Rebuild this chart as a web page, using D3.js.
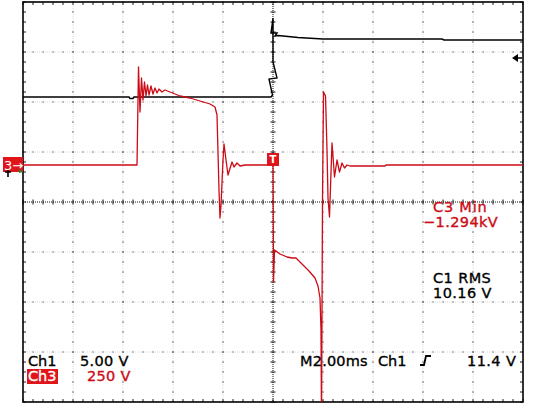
<!DOCTYPE html>
<html>
<head>
<meta charset="utf-8">
<script src="https://cdn.jsdelivr.net/npm/d3@7"></script>
<style>
  body { margin: 0; background: #fff; }
  svg { display: block; }
  text { font-family: "DejaVu Sans", sans-serif; }
</style>
</head>
<body>
<svg width="533" height="415"></svg>
<script>
// channel 1 (black), time in ms, volts
const ch1Time  = [-10, -5.76, -5.72, -5.6, -5.56, -0.08, -0.02, -0.16, 0.16, 0, 0, -0.08, 0.16, 0.08, 0.2, 1.0, 2.0, 3.48, 6.76, 6.84, 10]
const ch1Volts = [7.5, 7.5, 7.35, 7.35, 7.5, 7.5, 7.7, 9.3, 9.4, 11, 15.4, 13.9, 13.9, 13.6, 13.65, 13.45, 13.3, 13.3, 13.3, 13.2, 13.2]

// channel 3 (red)
const ch3Time  = [-10, -5.44, -5.38, -5.32, -5.26, -5.2, -5.14, -5.08, -5.02, -4.96, -4.88, -4.8, -4.72, -4.64, -4.56, -4.44, -4.32, -4.12,
  -3.72, -3.32, -2.92, -2.52, -2.32, -2.24, -2.16, -2.12, -2.08, -2.0, -1.96, -1.88, -1.8, -1.64, -1.56, -1.44, -1.32, -1.12,
  0, 0.02, 0.06, 0.28, 0.56, 0.76, 0.92, 1.16, 1.44, 1.68, 1.8, 1.88, 1.92, 1.94, 1.98, 2.02, 2.1, 2.16, 2.2, 2.26, 2.36,
  2.46, 2.56, 2.66, 2.76, 2.86, 2.96, 3.08, 4.48, 4.52, 10]
const ch3Volts = [0, 0, 490, 265, 435, 325, 415, 345, 400, 350, 395, 355, 385, 360, 380, 365, 375, 365,
  345, 335, 320, 305, 290, 250, -125, -265, -200, 25, 105, 25, -50, 15, -10, 10, -5, 0,
  0, -585, -425, -445, -460, -465, -465, -495, -530, -565, -605, -665, -825, -1294, -175, 365, 345, 75, -165, -260, 110,
  -60, 25, -35, 10, -15, 0, -5, -5, 0, 0]

const voltsPerDiv = [5, 250]
const groundOffsetDiv = [0.6, 0.74]
const triggerLevel = 11.4
const measureLabels = ["C3 Min", "\u22121.294kV", "C1 RMS", "10.16 V"]
const scaleLabels = ["Ch1", "5.00 V", "Ch3", "250 V", "M2.00ms", "Ch1", "11.4 V"]

const red = "#cc0b16", boxRed = "#e0151b"
const plotL = 23, plotR = 523, plotT = 2, plotB = 402

const svg = d3.select("svg")

const x = d3.scaleLinear().domain([-10, 10]).range([plotL, plotR])
const div = d3.scaleLinear().domain([-4, 4]).range([plotB, plotT])
const y1 = d3.scaleLinear()
  .domain([(-4 - groundOffsetDiv[0]) * voltsPerDiv[0], (4 - groundOffsetDiv[0]) * voltsPerDiv[0]])
  .range([plotB, plotT])
const y3 = d3.scaleLinear()
  .domain([(-4 - groundOffsetDiv[1]) * voltsPerDiv[1], (4 - groundOffsetDiv[1]) * voltsPerDiv[1]])
  .range([plotB, plotT])

// graticule
const g = svg.append("g")
const vMajors = d3.range(-8, 9, 2).filter(d => d !== 0)
const hMajors = d3.range(-3, 4, 1).filter(d => d !== 0)

g.selectAll(".vfaint").data(vMajors).enter().append("line")
  .attr("x1", d => x(d)).attr("x2", d => x(d)).attr("y1", plotT).attr("y2", plotB)
  .attr("stroke", "#dcdcdc").attr("stroke-dasharray", "1 1")
g.selectAll(".hfaint").data(hMajors).enter().append("line")
  .attr("y1", d => div(d)).attr("y2", d => div(d)).attr("x1", plotL).attr("x2", plotR)
  .attr("stroke", "#dcdcdc").attr("stroke-dasharray", "1 1")

g.selectAll(".vdot").data(vMajors).enter().append("line")
  .attr("x1", d => x(d)).attr("x2", d => x(d)).attr("y1", plotT - 0.5).attr("y2", plotB)
  .attr("stroke", "#222").attr("stroke-width", 1.2).attr("stroke-dasharray", "1 9")
g.selectAll(".hdot").data(hMajors).enter().append("line")
  .attr("y1", d => div(d)).attr("y2", d => div(d)).attr("x1", plotL - 0.5).attr("x2", plotR)
  .attr("stroke", "#222").attr("stroke-width", 1.2).attr("stroke-dasharray", "1 9")

// center crosshair
g.append("line").attr("x1", x(0)).attr("x2", x(0)).attr("y1", plotT).attr("y2", plotB)
  .attr("stroke", "#111").attr("stroke-dasharray", "1 1")
g.append("line").attr("y1", div(0)).attr("y2", div(0)).attr("x1", plotL).attr("x2", plotR)
  .attr("stroke", "#111").attr("stroke-dasharray", "1 1")
g.selectAll(".ctickx").data(d3.range(-10, 10.01, 0.4)).enter().append("line")
  .attr("x1", d => x(d)).attr("x2", d => x(d)).attr("y1", div(0) - 2.5).attr("y2", div(0) + 2.5)
  .attr("stroke", "#111")
g.selectAll(".cticky").data(d3.range(-4, 4.01, 0.2)).enter().append("line")
  .attr("y1", d => div(d)).attr("y2", d => div(d)).attr("x1", x(0) - 2.5).attr("x2", x(0) + 2.5)
  .attr("stroke", "#111")

// frame ticks
const minorX = d3.range(-10, 10.01, 0.4), minorY = d3.range(-4, 4.01, 0.2)
g.selectAll(".ttop").data(minorX).enter().append("line")
  .attr("x1", d => x(d)).attr("x2", d => x(d)).attr("y1", plotT).attr("y2", plotT + 3).attr("stroke", "#222")
g.selectAll(".tbot").data(minorX).enter().append("line")
  .attr("x1", d => x(d)).attr("x2", d => x(d)).attr("y1", plotB - 3).attr("y2", plotB).attr("stroke", "#222")
g.selectAll(".tleft").data(minorY).enter().append("line")
  .attr("y1", d => div(d)).attr("y2", d => div(d)).attr("x1", plotL).attr("x2", plotL + 3).attr("stroke", "#222")
g.selectAll(".tright").data(minorY).enter().append("line")
  .attr("y1", d => div(d)).attr("y2", d => div(d)).attr("x1", plotR - 3).attr("x2", plotR).attr("stroke", "#222")

g.append("rect").attr("x", plotL).attr("y", plotT).attr("width", plotR - plotL).attr("height", plotB - plotT)
  .attr("fill", "none").attr("stroke", "#000").attr("stroke-width", 1.6)

// traces
svg.append("clipPath").attr("id", "plot").append("rect")
  .attr("x", plotL).attr("y", plotT).attr("width", plotR - plotL).attr("height", plotB - plotT)

const ch1Data = ch1Time.map((t, i) => ({ t, v: ch1Volts[i] }))
const ch3Data = ch3Time.map((t, i) => ({ t, v: ch3Volts[i] }))

svg.append("path").datum(ch1Data)
  .attr("clip-path", "url(#plot)")
  .attr("d", d3.line().x(d => x(d.t)).y(d => y1(d.v)))
  .attr("fill", "none").attr("stroke", "#000").attr("stroke-width", 1.4)

svg.append("path").datum(ch3Data)
  .attr("clip-path", "url(#plot)")
  .attr("d", d3.line().x(d => x(d.t)).y(d => y3(d.v)))
  .attr("fill", "none").attr("stroke", red).attr("stroke-width", 1.3)
  .attr("stroke-linejoin", "round")

// markers
const m = svg.append("g")
m.append("rect").attr("x", 3).attr("y", y3(0) - 8).attr("width", 20).attr("height", 15).attr("fill", boxRed)
m.append("text").attr("x", 4).attr("y", y3(0) + 5).attr("fill", "#fff").attr("font-size", 13).text("3\u2192")
m.append("path").attr("d", `M8,${y1(0) - 2} V${y1(0) + 5} M5,${y1(0)} H11`).attr("stroke", "#000").attr("stroke-width", 1.6)
m.append("path").attr("d", `M19,${y1(0) - 3} L23,${y1(0)} L19,${y1(0) + 1} Z`).attr("fill", "#2a8a2a")

m.append("rect").attr("x", x(0) - 6).attr("y", y3(0) - 12).attr("width", 12).attr("height", 13).attr("fill", boxRed)
m.append("text").attr("x", x(0)).attr("y", y3(0) - 2).attr("text-anchor", "middle")
  .attr("fill", "#fff").attr("font-size", 10).attr("font-weight", "bold").text("T")

const ty = y1(triggerLevel)
m.append("path").attr("d", `M512,${ty} L518,${ty - 4} L518,${ty + 4} Z`).attr("fill", "#000")
m.append("line").attr("x1", 517).attr("x2", 522).attr("y1", ty).attr("y2", ty).attr("stroke", "#000").attr("stroke-width", 1.5)

// readouts
const t = svg.append("g").attr("font-size", 14.5).attr("stroke-width", 0.35)
const label = (px, py, color, txt, ls) => t.append("text").attr("x", px).attr("y", py)
  .attr("fill", color).attr("stroke", color).attr("letter-spacing", ls).text(txt)
label(433, 212, red, measureLabels[0], 0.8)
label(423, 227, red, measureLabels[1], 0.4)
label(433, 283, "#000", measureLabels[2], 0.4)
label(433, 298, "#000", measureLabels[3], 0.4)

label(28, 366, "#000", scaleLabels[0], 0)
label(80, 366, "#000", scaleLabels[1], 0.3)
t.append("rect").attr("x", 27).attr("y", 369).attr("width", 31).attr("height", 15).attr("fill", boxRed).attr("stroke", "none")
label(28, 381, "#fff", scaleLabels[2], 0)
label(87, 381, red, scaleLabels[3], 0.3)
label(300, 366, "#000", scaleLabels[4], 0.2)
label(378, 366, "#000", scaleLabels[5], 0)
t.append("path").attr("d", "M420,365 H424 L426,356 H431").attr("fill", "none").attr("stroke", "#000").attr("stroke-width", 1.8)
label(467, 366, "#000", scaleLabels[6], 0.4)
</script>
</body>
</html>
